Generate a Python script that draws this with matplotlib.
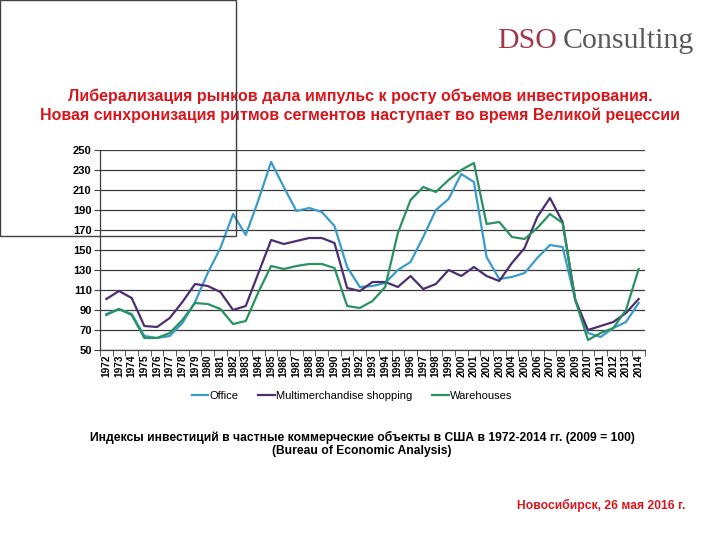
import matplotlib
matplotlib.use("Agg")
import matplotlib.pyplot as plt
from matplotlib.patches import Rectangle
from matplotlib.lines import Line2D
from matplotlib import font_manager

years = list(range(1972, 2015))
office = [86, 91, 86, 64, 62, 64, 77, 98, 127, 152, 186, 165, 200, 238, 213, 189, 192, 188, 174,
          133, 113, 114, 117, 130, 138, 163, 190, 201, 226, 218, 143, 121, 123, 127, 142, 155, 153,
          100, 67, 63, 72, 78, 97]
shopping = [101, 109, 102, 74, 73, 82, 98, 116, 114, 108, 90, 94, 127, 160, 156, 159, 162, 162, 157,
            112, 109, 118, 118, 113, 124, 111, 116, 130, 124, 133, 124, 119, 137, 152, 183, 202, 178,
            100, 70, 74, 78, 87, 101]
warehouses = [85, 91, 85, 62, 62, 67, 80, 97, 96, 91, 76, 79, 108, 134, 131, 134, 136, 136, 132,
              94, 92, 99, 113, 167, 200, 213, 208, 220, 230, 237, 176, 178, 163, 161, 172, 186, 177,
              100, 60, 67, 72, 90, 131]
series_names = ["Office", "Multimerchandise shopping", "Warehouses"]
series_colors = ["#3A9CC8", "#4B2F6E", "#2A9160"]
yticks = list(range(50, 251, 20))

plt.rcParams['font.family'] = ['Liberation Sans', 'DejaVu Sans']
names = {f.name for f in font_manager.fontManager.ttflist}
narrow = ['Liberation Sans Narrow', 'Liberation Sans'] if 'Liberation Sans Narrow' in names else ['Liberation Sans']

fig = plt.figure(figsize=(7.2, 5.4), dpi=100)
ax = fig.add_axes([100/720, 1-350/540, 545/720, 200/540])

x = list(range(len(years)))
for vals, name, col in zip([office, shopping, warehouses], series_names, series_colors):
    ax.plot(x, vals, color=col, lw=1.6, label=name)

ax.set_xlim(-0.5, len(years) - 0.5)
ax.set_ylim(50, 250)
ax.set_yticks(yticks)
ax.set_yticklabels([str(v) for v in yticks], fontsize=8, fontweight='bold')
ax.set_xticks(x)
ax.set_xticklabels([str(y) for y in years], rotation=90, fontsize=7.3, fontweight='bold')
ax.set_xticks([i - 0.5 for i in range(len(years) + 1)], minor=True)
ax.tick_params(axis='x', which='major', length=0, pad=3)
ax.tick_params(axis='x', which='minor', length=4, color='#404040')
ax.tick_params(axis='y', length=4, color='#404040', pad=2)
ax.yaxis.grid(True, color='#3a3a3a', lw=0.9)
ax.set_axisbelow(True)
for s in ['top', 'right']:
    ax.spines[s].set_visible(False)
for s in ['left', 'bottom']:
    ax.spines[s].set_color('#404040')
    ax.spines[s].set_linewidth(0.9)

handles = [Line2D([0], [0], color=c, lw=1.6) for c in series_colors]
fig.legend(handles, series_names, loc='center', bbox_to_anchor=(352/720, 1-396/540), ncol=3,
           frameon=False, prop={'family': narrow, 'size': 8}, handlelength=1.5,
           handletextpad=0.1, columnspacing=1.8)

red = '#D9161C'
fig.text(360/720, 1-96/540, "Либерализация рынков дала импульс к росту объемов инвестирования.",
         ha='center', va='center', color=red, fontsize=11.5, fontweight='bold')
fig.text(360/720, 1-115/540, "Новая синхронизация ритмов сегментов наступает во время Великой рецессии",
         ha='center', va='center', color=red, fontsize=11.5, fontweight='bold')

fig.text(362/720, 1-437/540, "Индексы инвестиций в частные коммерческие объекты в США в 1972-2014 гг. (2009 = 100)",
         ha='center', va='center', color='black', fontsize=8.7, fontweight='bold')
fig.text(362/720, 1-451/540, "(Bureau of Economic Analysis)",
         ha='center', va='center', color='black', fontsize=8.7, fontweight='bold')
fig.text(685/720, 1-505/540, "Новосибирск, 26 мая 2016 г.",
         ha='right', va='center', color=red, fontsize=8.7, fontweight='bold')

fig.text(497/720, 1-48/540, "DSO", ha='left', va='baseline', color='#9E3A4C',
         fontsize=21.5, family=['Liberation Serif', 'DejaVu Serif'])
fig.text(563/720, 1-48/540, "Consulting", ha='left', va='baseline', color='#5a5a5a',
         fontsize=21.5, family=['Liberation Serif', 'DejaVu Serif'])

fig.patches.append(Rectangle((0, 1-236/540), 236/720, 236/540, transform=fig.transFigure,
                             fill=False, edgecolor='#404040', lw=1.0, zorder=10))

fig.savefig("out.png", dpi=100)
